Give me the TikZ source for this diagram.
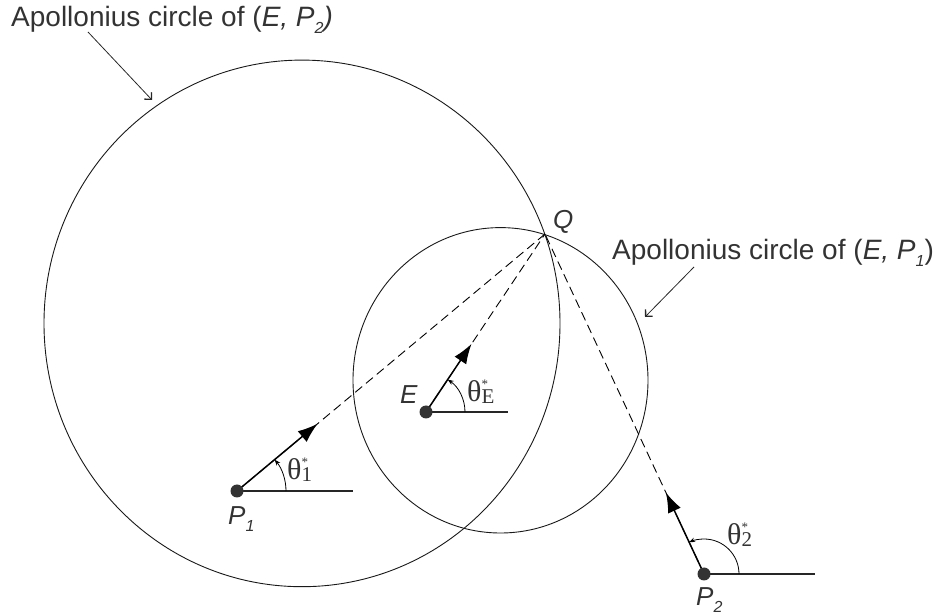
\documentclass[tikz,border=0pt]{standalone}
\usepackage{fontspec}
\setmainfont{Liberation Sans}
\newfontfamily\tmfont{Liberation Serif}
\usetikzlibrary{arrows.meta,calc}
\newcommand{\mysub}[1]{\raisebox{-7pt}{\fontsize{16}{16}\selectfont\itshape #1}}
\newcommand{\mytheta}[1]{{\tmfont\fontsize{30}{30}\selectfont θ}\raisebox{-2pt}{\tmfont\fontsize{21}{21}\selectfont\rlap{\raisebox{15pt}{\fontsize{13}{13}\selectfont *}}#1}}
\begin{document}
\begin{tikzpicture}[x=1pt,y=1pt,
 circ/.style={draw=black!90,line width=0.9pt},
 ray/.style={draw=black,line width=0.9pt,dash pattern=on 9pt off 5pt},
 vec/.style={draw=black,line width=1.5pt,-{Latex[length=20pt,width=14pt]}},
 baseline/.style={draw=black!85,line width=1.2pt},
 angarc/.style={draw=black,line width=0.8pt,-{Stealth[length=6pt,width=4.5pt]}},
 dot/.style={circle,fill=black!80,inner sep=0pt,minimum size=13pt},
 lbl/.style={text=black!80,font=\fontsize{28}{30}\selectfont,inner sep=0pt,anchor=base west},
 ptlbl/.style={text=black!80,font=\fontsize{26}{28}\selectfont\itshape,inner sep=0pt,anchor=base west},
 thlbl/.style={text=black!80,inner sep=0pt,anchor=base west},
 callout/.style={draw=black!85,line width=0.8pt,-{Straight Barb[length=5pt,width=10pt,line width=1.3pt]}}
]
\useasboundingbox (0,0) rectangle (935,616);

% circles
\draw[circ] (302,292.6) ellipse [x radius=258, y radius=263.3];
\draw[circ] (500.5,235.7) ellipse [x radius=147.5, y radius=152.7];

% points
\coordinate (Q) at (545,382);
\coordinate (P1) at (237,125);
\coordinate (E) at (426,204);
\coordinate (P2) at (704,42);

% horizontal reference lines
\coordinate (h1) at (353,125);
\coordinate (hE) at (508,204);
\coordinate (h2) at (815,42);
\draw[baseline] (P1) -- (h1);
\draw[baseline] (E) -- (hE);
\draw[baseline] (P2) -- (h2);

% dashed rays to Q
\draw[ray] (P1) -- (Q);
\draw[ray] (E) -- (Q);
\draw[ray] (P2) -- (Q);

% heading vectors
\coordinate (a1) at ($(P1)!105pt!(Q)$);
\coordinate (aE) at ($(E)!82pt!(Q)$);
\coordinate (a2) at ($(P2)!90pt!(Q)$);
\draw[vec] (P1) -- (a1);
\draw[vec] (E) -- (aE);
\draw[vec] (P2) -- (a2);

% angle arcs
\draw[angarc] ($(P1)+(49,0)$) arc[start angle=0,end angle=39.8,radius=49];
\draw[angarc] ($(E)+(39,0)$) arc[start angle=0,end angle=56.2,radius=39];
\draw[angarc] ($(P2)+(35,0)$) arc[start angle=0,end angle=115.1,radius=35];

% dots
\node[dot] (p1dot) at (P1) {};
\node[dot] (edot) at (E) {};
\node[dot] (p2dot) at (P2) {};

% point labels
\node[ptlbl] (qlab) at (553,387) {Q};
\node[ptlbl] (elab) at (400,212) {E};
\node[ptlbl] (p1lab) at (228,91) {P\mysub{1}};
\node[ptlbl] (p2lab) at (696,10) {P\mysub{2}};

% angle labels
\node[thlbl] (th1) at (287,136) {\mytheta{1}};
\node[thlbl] (thE) at (467,214) {\mytheta{E}};
\node[thlbl] (th2) at (727,71) {\mytheta{2}};

% callout labels
\node[lbl] (apo2) at (11,589) {Apollonius circle of (\textit{E, P}\mysub{2}\textit{)}};
\node[lbl] (apo1) at (612,356.5) {Apollonius circle of (\textit{E, P}\mysub{1})};
\coordinate (c2s) at (88,584);
\coordinate (c2e) at (152,516);
\coordinate (c1s) at (694,349);
\coordinate (c1e) at (645,299);
\draw[callout] (c2s) -- (c2e);
\draw[callout] (c1s) -- (c1e);
\end{tikzpicture}
\end{document}
